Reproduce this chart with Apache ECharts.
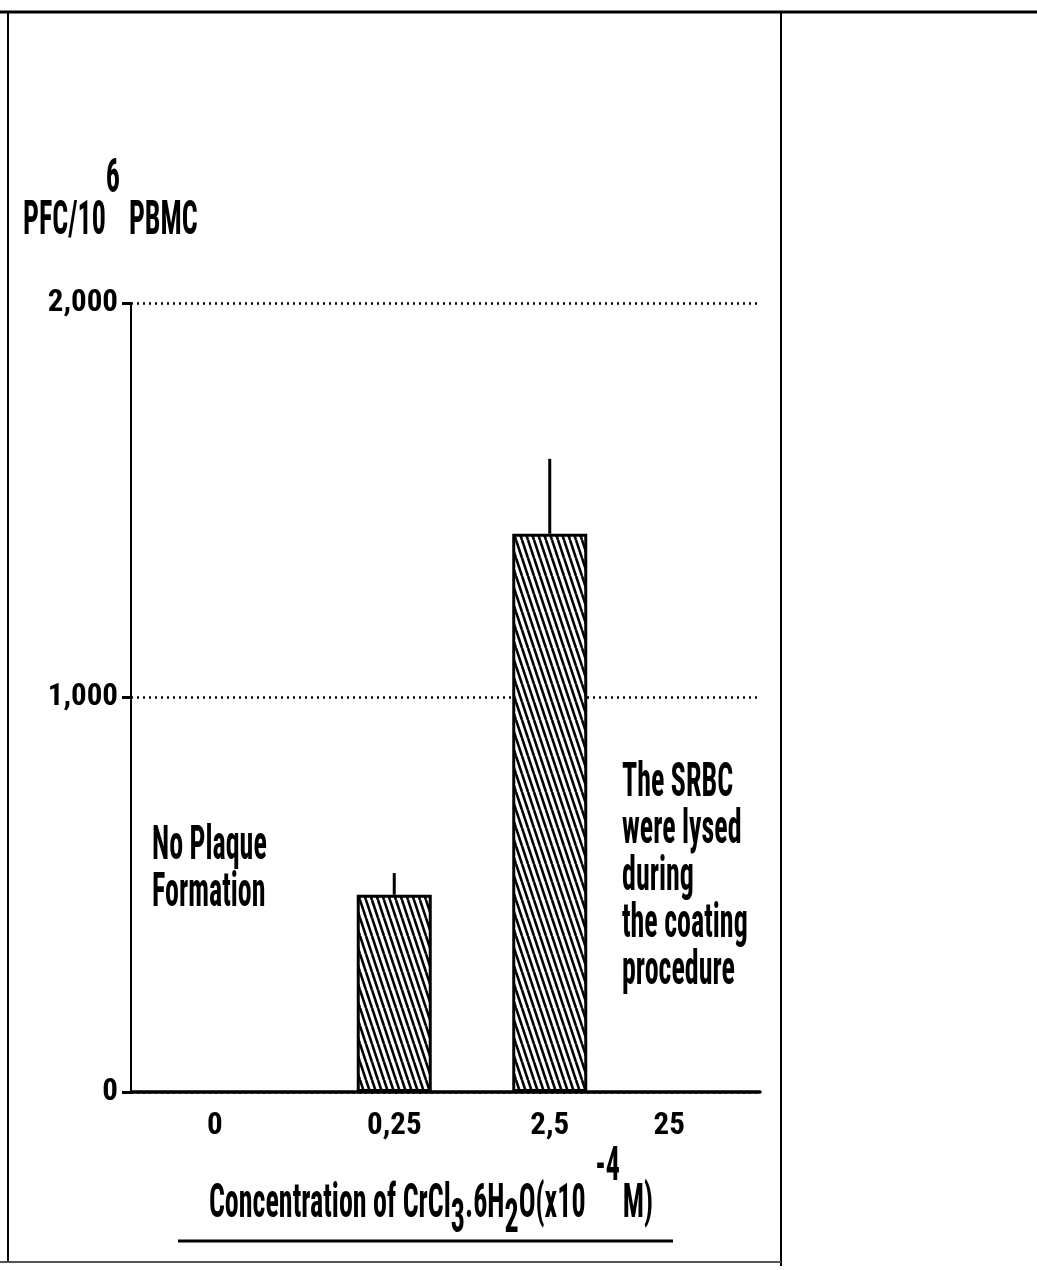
<!DOCTYPE html>
<html>
<head>
<meta charset="utf-8">
<script src="https://cdn.jsdelivr.net/npm/echarts@6/dist/echarts.min.js"></script>
<style>
  html, body { margin: 0; padding: 0; background: #fff; }
  #chart { width: 1037px; height: 1270px; }
</style>
</head>
<body>
<div id="chart"></div>
<script>
// Plaque-forming cells per 10^6 PBMC for each CrCl3.6H2O coating concentration
const categories = ['0', '0,25', '2,5', '25'];
const meanPFC = [null, 500, 1415, null];
const semPFC = [null, 55, 190, null];
const yTicks = [0, 1000, 2000];

const FONT = '"Liberation Sans Narrow", "Roboto Condensed", "DejaVu Sans Condensed", sans-serif';
const STRETCH = 1.7;   // tall, narrow lettering of the printed figure
const TXT = 28;        // font size of the stretched lettering
const AXIS_TXT = 31;   // font size of the tick labels

// diagonal hatching used to fill the bars
function hatchPattern() {
  const c = document.createElement('canvas');
  const w = 6, h = 18;
  c.width = w; c.height = h;
  const g = c.getContext('2d');
  g.fillStyle = '#fff';
  g.fillRect(0, 0, w, h);
  g.strokeStyle = '#000';
  g.lineWidth = 2.6;
  for (let k = -1; k <= 1; k++) {
    g.beginPath();
    g.moveTo(k * w, 0);
    g.lineTo(k * w + w, h);
    g.stroke();
  }
  return c;
}

function tallText(x, y, text, extra) {
  return {
    type: 'text', x: x, y: y, scaleY: STRETCH, z: 10,
    style: Object.assign({
      text: text, fill: '#000',
      fontFamily: FONT, fontSize: TXT, fontWeight: 'bold',
      align: 'left', verticalAlign: 'middle'
    }, extra || {})
  };
}

const tokenBase = { fontFamily: FONT, fontSize: TXT, fontWeight: 'bold', fill: '#000' };
const tickFont = { fontFamily: FONT, fontSize: AXIS_TXT, fontWeight: 'bold', color: '#000' };

const barData = meanPFC.map(v => (v == null ? '-' : v));
const errData = [];
meanPFC.forEach((v, i) => { if (v != null) errData.push([i, v, semPFC[i]]); });

const chart = echarts.init(document.getElementById('chart'), null, { renderer: 'canvas' });

chart.setOption({
  animation: false,
  backgroundColor: '#fff',
  grid: [
    { left: 131, right: 277, top: 303, bottom: 178 },
    { left: 161, right: 254, top: 303, bottom: 178 }
  ],
  xAxis: [
    {
      gridIndex: 0, type: 'value', min: 0, max: 1,
      axisLine: { show: true, onZero: false, lineStyle: { color: '#000', width: 3.5 } },
      axisTick: { show: false }, axisLabel: { show: false }, splitLine: { show: false }
    },
    {
      gridIndex: 1, type: 'category', data: categories,
      axisLine: { show: false }, axisTick: { show: false }, splitLine: { show: false },
      axisLabel: Object.assign({
        interval: 0,
        margin: 19,
        formatter: (v, i) => '{c' + i + '|' + v + '}',
        rich: {
          c0: Object.assign({}, tickFont, { padding: [0, 48, 0, 0] }),
          c1: Object.assign({}, tickFont),
          c2: Object.assign({}, tickFont),
          c3: Object.assign({}, tickFont, { padding: [0, 72, 0, 0] })
        }
      }, tickFont)
    }
  ],
  yAxis: [
    {
      gridIndex: 0, type: 'value',
      min: yTicks[0], max: yTicks[yTicks.length - 1], interval: yTicks[1] - yTicks[0],
      axisLine: { show: true, lineStyle: { color: '#000', width: 2 } },
      axisTick: { show: true, length: 9, lineStyle: { color: '#000', width: 3 } },
      axisLabel: Object.assign({
        margin: 13,
        padding: [0, 0, 12, 0],
        formatter: v => v.toLocaleString('en-US')
      }, tickFont),
      splitLine: { show: true, lineStyle: { color: '#000', width: 2.5, type: [2, 4] } }
    },
    {
      gridIndex: 1, type: 'value',
      min: yTicks[0], max: yTicks[yTicks.length - 1],
      show: false
    }
  ],
  series: [
    {
      type: 'bar', xAxisIndex: 1, yAxisIndex: 1,
      data: barData, barWidth: 75,
      itemStyle: {
        color: { image: hatchPattern(), repeat: 'repeat' },
        borderColor: '#000', borderWidth: 3
      },
      z: 3
    },
    {
      type: 'custom', xAxisIndex: 1, yAxisIndex: 1,
      data: errData,
      renderItem: (params, api) => {
        const base = api.coord([api.value(0), api.value(1)]);
        const top = api.coord([api.value(0), api.value(1) + api.value(2)]);
        return {
          type: 'line',
          shape: { x1: base[0], y1: base[1], x2: top[0], y2: top[1] },
          style: { stroke: '#000', lineWidth: 3 }
        };
      },
      z: 4
    }
  ],
  graphic: [
    // frame of the figure panel
    { type: 'line', shape: { x1: 0, y1: 12, x2: 1037, y2: 12 }, style: { stroke: '#000', lineWidth: 3 } },
    { type: 'line', shape: { x1: 8, y1: 12, x2: 8, y2: 1262 }, style: { stroke: '#000', lineWidth: 2 } },
    { type: 'line', shape: { x1: 781, y1: 12, x2: 781, y2: 1266 }, style: { stroke: '#000', lineWidth: 2 } },
    { type: 'line', shape: { x1: 0, y1: 1262, x2: 781, y2: 1262 }, style: { stroke: '#555', lineWidth: 2 } },

    // y-axis unit
    tallText(23, 222, '{t|PFC/10}{s|6}{t|PBMC}', {
      rich: {
        t: tokenBase,
        s: Object.assign({}, tokenBase, { padding: [0, 9, 49, 0] })
      }
    }),

    // x-axis title with its underline
    tallText(431, 1205, '{t|Concentration of CrCl}{d|3}{t|.6H}{d|2}{t|O(x10}{u|-4}{t|M)}', {
      align: 'center',
      rich: {
        t: tokenBase,
        d: Object.assign({}, tokenBase, { padding: [18, 0, 0, 0] }),
        u: Object.assign({}, tokenBase, { padding: [0, 3, 44, 10] })
      }
    }),
    { type: 'line', shape: { x1: 178, y1: 1241, x2: 673, y2: 1241 }, style: { stroke: '#000', lineWidth: 3 } },

    // notes beside the bars
    tallText(152, 871, 'No Plaque\nFormation', { lineHeight: 27.6 }),
    tallText(622, 878, 'The SRBC\nwere lysed\nduring\nthe coating\nprocedure', { lineHeight: 27.6 })
  ]
});
</script>
</body>
</html>
